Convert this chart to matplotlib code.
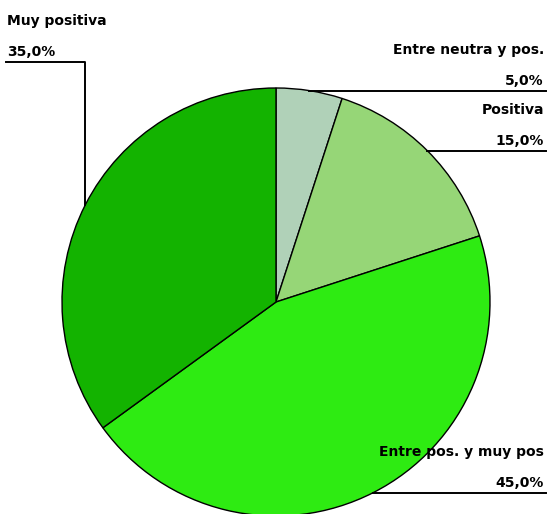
import numpy as np
import matplotlib.pyplot as plt

# data
labels = ['Entre neutra y pos.', 'Positiva', 'Entre pos. y muy pos', 'Muy positiva']
values = [5.0, 15.0, 45.0, 35.0]
colors = ['#b0d1b8', '#96d677', '#2eeb12', '#13b300']

W, H = 548, 514
cx, cy, r = 276, H - 302, 214

fig = plt.figure(figsize=[W / 100, H / 100], dpi=100)
ax = fig.add_axes([0, 0, 1, 1])

wedges, _ = ax.pie(values, colors=colors, startangle=90, counterclock=False,
                   center=(cx, cy), radius=r, frame=True,
                   wedgeprops={'edgecolor': 'black', 'linewidth': 1.0})
ax.set_xlim(0, W)
ax.set_ylim(0, H)
ax.set_axis_off()

font = dict(family='DejaVu Sans', fontweight='bold', fontsize=10)

for w, lab, v in zip(wedges, labels, values):
    ang = np.deg2rad((w.theta1 + w.theta2) / 2)
    ex = cx + r * np.cos(ang)
    ey = cy + r * np.sin(ang)
    pct = '{:.1f}%'.format(v).replace('.', ',')
    if ex < cx:
        # left label: vertical then horizontal to the left edge
        ly = H - 62
        ax.plot([ex, ex, 6], [ey, ly, ly], color='black', lw=1.4)
        ax.text(7, ly + 6, pct, ha='left', va='baseline', **font)
        ax.text(7, ly + 37, lab, ha='left', va='baseline', **font)
    else:
        ly = ey
        ax.plot([ex, 546], [ly, ly], color='black', lw=1.4)
        ax.text(544, ly + 6, pct, ha='right', va='baseline', **font)
        ax.text(544, ly + 37, lab, ha='right', va='baseline', **font)

plt.savefig('out.png', dpi=100)
plt.close()
